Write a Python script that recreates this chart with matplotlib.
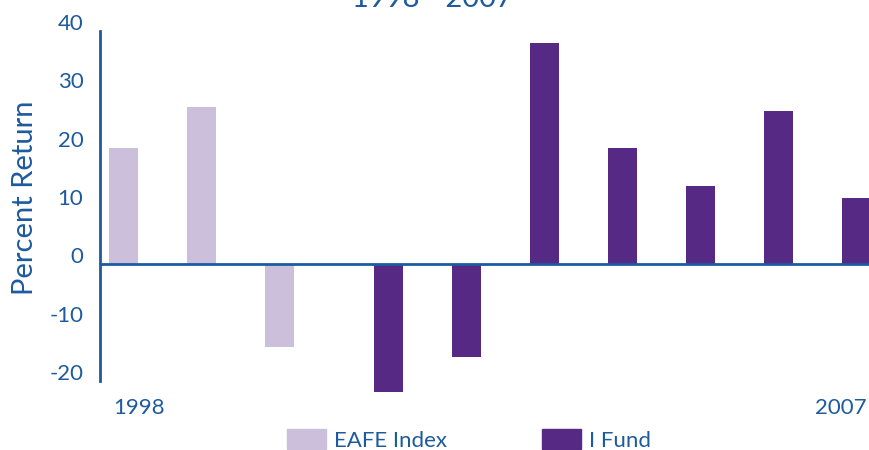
import matplotlib

matplotlib.use('agg')
import numpy as np
import matplotlib.pyplot as plt
import matplotlib.transforms as mtransforms
from matplotlib.patches import Patch

plt.rcParams['font.family'] = ['Lato', 'DejaVu Sans']
plt.rcParams['axes.unicode_minus'] = False

years = ['1998', '1999', '2000', '2001', '2002', '2003', '2004', '2005', '2006', '2007']
eafe = [20.0, 27.0, -14.2, np.nan, np.nan, np.nan, np.nan, np.nan, np.nan, np.nan]
ifund = [np.nan, np.nan, np.nan, -21.9, -15.9, 38.0, 20.0, 13.5, 26.3, 11.4]
shown_years = ['1998', '2007']

blue = '#1d5a9e'
light = '#cbbfdb'
dark = '#562a84'

fig = plt.figure(figsize=(8.7, 4.5), dpi=100)
ax = fig.add_axes([100 / 870, 69 / 450, 770 / 870, 350 / 450])

x = np.arange(len(years))
b1 = ax.bar(x - 0.2, eafe, width=0.37, color=light)
b2 = ax.bar(x + 0.2, ifund, width=0.37, color=dark)
for b in list(b1) + list(b2):
	b.set_clip_on(False)

ax.set_xlim(-0.5, 9.37)
ax.set_ylim(-20, 40)
ax.axhline(0, color=blue, linewidth=2)

for s in ['top', 'right', 'bottom']:
	ax.spines[s].set_visible(False)
ax.spines['left'].set_color(blue)
ax.spines['left'].set_linewidth(2)

ax.set_yticks(np.arange(-20, 50, 10))
ax.tick_params(axis='y', length=0, pad=12, labelsize=16, labelcolor=blue)
offset = mtransforms.ScaledTranslation(0, 9 / 100, fig.dpi_scale_trans)
for lab in ax.get_yticklabels():
	lab.set_transform(lab.get_transform() + offset)

ax.set_xticks([years.index(y) for y in shown_years])
ax.set_xticklabels(shown_years)
ax.tick_params(axis='x', length=0, pad=12, labelsize=16, labelcolor=blue)

fig.text(25 / 870, 1 - 198 / 450, 'Percent Return', rotation=90, fontsize=21,
		 color=blue, ha='center', va='center')
fig.text(432 / 870, 1 - 7 / 450, '1998 - 2007', fontsize=21, color=blue,
		 ha='center', va='baseline')

handles = [Patch(color=light), Patch(color=dark)]
fig.legend(handles, ['EAFE Index', 'I Fund'], loc='center', bbox_to_anchor=(469 / 870, 10 / 450),
		   ncol=2, frameon=False, fontsize=16, labelcolor=blue, handlelength=1.75,
		   handleheight=1.0, handletextpad=0.35, columnspacing=4.3)

fig.savefig('out.png', dpi=100)
